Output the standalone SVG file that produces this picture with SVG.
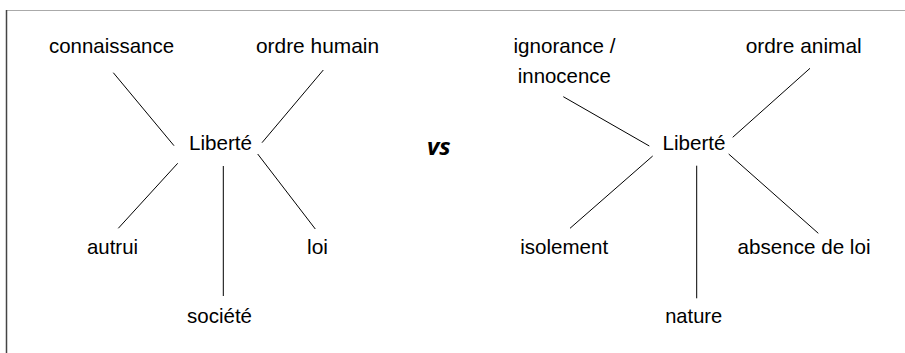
<svg xmlns="http://www.w3.org/2000/svg" width="905" height="353" viewBox="0 0 905 353">
<style>
.t{font-family:"Liberation Sans",Arial,sans-serif;font-size:21px;fill:#000;text-anchor:middle}
.vs{font-family:"Open Sans","Liberation Sans",sans-serif;font-size:24px;font-weight:bold;font-style:italic;fill:#000}
.c line{stroke:#000;stroke-width:1}
</style>
<rect width="905" height="353" fill="#fff"/>
<g id="frame">
<line x1="7" y1="10.5" x2="905" y2="10.5" stroke="#aaa" stroke-width="1.2"/>
<line x1="6.5" y1="10" x2="6.5" y2="353" stroke="#444" stroke-width="1.5"/>
</g>
<g id="connectors" class="c">
<line x1="113.3" y1="72.7" x2="174" y2="145.7"/>
<line x1="323.3" y1="70" x2="262" y2="142.7"/>
<line x1="177.7" y1="163.3" x2="118.3" y2="228.3"/>
<line x1="223.3" y1="166" x2="223.3" y2="296"/>
<line x1="257.7" y1="154" x2="315.3" y2="229"/>
<line x1="563.3" y1="96.7" x2="649.3" y2="146"/>
<line x1="810" y1="68.3" x2="732.7" y2="137.3"/>
<line x1="652.7" y1="156" x2="570" y2="228.3"/>
<line x1="696.7" y1="165.7" x2="696.7" y2="298.3"/>
<line x1="728.7" y1="154" x2="818.3" y2="233.3"/>
</g>
<g id="left-liberte"><text class="t" x="220.5" y="150" textLength="63" lengthAdjust="spacingAndGlyphs">Liberté</text></g>
<g id="connaissance"><text class="t" x="111.5" y="53" textLength="125" lengthAdjust="spacingAndGlyphs">connaissance</text></g>
<g id="ordre-humain"><text class="t" x="317.5" y="53" textLength="123" lengthAdjust="spacingAndGlyphs">ordre humain</text></g>
<g id="autrui"><text class="t" x="112.5" y="254" textLength="51" lengthAdjust="spacingAndGlyphs">autrui</text></g>
<g id="loi"><text class="t" x="317.5" y="254" textLength="21" lengthAdjust="spacingAndGlyphs">loi</text></g>
<g id="societe"><text class="t" x="219.5" y="323" textLength="65" lengthAdjust="spacingAndGlyphs">société</text></g>
<g id="vs"><text class="vs" x="427" y="155">vs</text></g>
<g id="right-liberte"><text class="t" x="694" y="150" textLength="63" lengthAdjust="spacingAndGlyphs">Liberté</text></g>
<g id="ignorance"><text class="t" x="564.5" y="53" textLength="102" lengthAdjust="spacingAndGlyphs">ignorance /</text><text class="t" x="564.3" y="82.7" textLength="93" lengthAdjust="spacingAndGlyphs">innocence</text></g>
<g id="ordre-animal"><text class="t" x="803.7" y="53" textLength="116" lengthAdjust="spacingAndGlyphs">ordre animal</text></g>
<g id="isolement"><text class="t" x="564.2" y="254" textLength="88" lengthAdjust="spacingAndGlyphs">isolement</text></g>
<g id="absence-de-loi"><text class="t" x="804" y="254" textLength="133" lengthAdjust="spacingAndGlyphs">absence de loi</text></g>
<g id="nature"><text class="t" x="693.7" y="323" textLength="57" lengthAdjust="spacingAndGlyphs">nature</text></g>
</svg>
